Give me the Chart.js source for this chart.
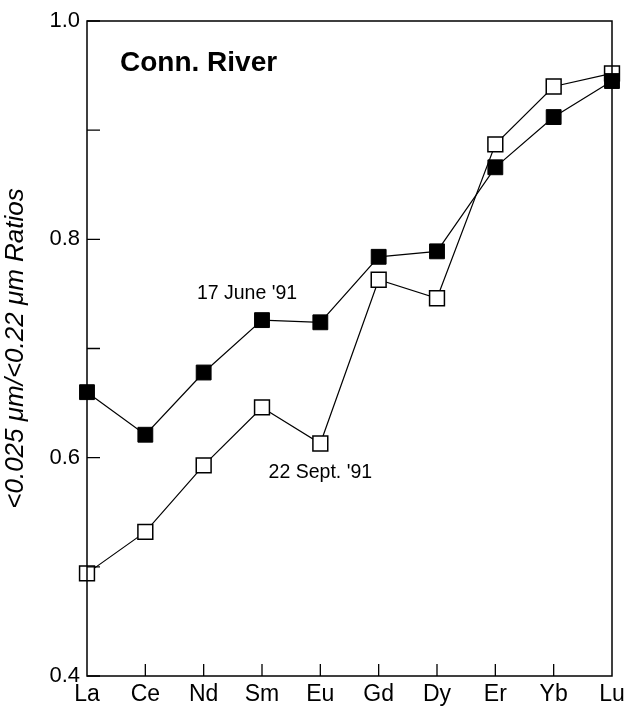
<!DOCTYPE html>
<html>
<head>
<meta charset="utf-8">
<script src="https://cdn.jsdelivr.net/npm/chart.js@4.4.1/dist/chart.umd.min.js"></script>
<style>
  html, body { margin: 0; padding: 0; background: #fff; }
  #wrap { width: 624px; height: 708px; }
</style>
</head>
<body>
<div id="wrap"><canvas id="reeChart" width="624" height="708"></canvas></div>
<script>
// REE ratios, Connecticut River
var elements = ['La', 'Ce', 'Nd', 'Sm', 'Eu', 'Gd', 'Dy', 'Er', 'Yb', 'Lu'];
var june91 = [0.660, 0.621, 0.678, 0.726, 0.724, 0.784, 0.789, 0.866, 0.912, 0.945];
var sept91 = [0.494, 0.532, 0.593, 0.646, 0.613, 0.763, 0.746, 0.887, 0.940, 0.952];
var yLabels = [0.4, 0.6, 0.8, 1.0];

var FONT = '"Liberation Sans", Arial, Helvetica, sans-serif';

// box round the plot, inward ticks and the text labels
var framePlugin = {
    id: 'frame',
    afterDraw: function (chart) {
        var c = chart.ctx, a = chart.chartArea;
        var xs = chart.scales.x, ys = chart.scales.y;
        c.save();
        c.strokeStyle = '#000';
        c.lineWidth = 1.5;
        c.strokeRect(a.left, a.top, a.right - a.left, a.bottom - a.top);
        c.lineWidth = 1.3;
        c.beginPath();
        ys.ticks.forEach(function (t) {
            var y = ys.getPixelForValue(t.value);
            c.moveTo(a.left, y); c.lineTo(a.left + 13, y);
        });
        for (var i = 1; i < elements.length - 1; i++) {
            var x = xs.getPixelForValue(i);
            c.moveTo(x, a.bottom); c.lineTo(x, a.bottom - 12);
        }
        c.stroke();

        c.fillStyle = '#000';
        c.textAlign = 'left';
        c.textBaseline = 'middle';
        c.font = 'bold 28px ' + FONT;
        c.fillText('Conn. River', a.left + 33, 63);

        c.textAlign = 'center';
        c.font = '19.5px ' + FONT;
        var sm = chart.getDatasetMeta(0).data[3];
        c.fillText("17 June '91", sm.x - 15, sm.y - 26);
        var eu = chart.getDatasetMeta(1).data[4];
        c.fillText("22 Sept. '91", eu.x, eu.y + 29);
        c.restore();
    }
};

var ctx = document.getElementById('reeChart').getContext('2d');
var reeChart = new Chart(ctx, {
    type: 'line',
    data: {
        labels: elements,
        datasets: [{
            label: "17 June '91",
            data: june91,
            order: 0,
            borderColor: '#000',
            borderWidth: 1.2,
            pointStyle: 'rect',
            pointRadius: 10.5,
            pointBackgroundColor: '#000',
            pointBorderColor: '#000',
            pointBorderWidth: 1,
            tension: 0
        }, {
            label: "22 Sept. '91",
            data: sept91,
            order: 1,
            borderColor: '#000',
            borderWidth: 1.2,
            pointStyle: 'rect',
            pointRadius: 10.5,
            pointBackgroundColor: '#fff',
            pointBorderColor: '#000',
            pointBorderWidth: 1.5,
            tension: 0
        }]
    },
    options: {
        responsive: false,
        animation: false,
        clip: false,
        layout: { padding: { top: 21, right: 12, left: 0, bottom: 0 } },
        plugins: {
            legend: { display: false },
            tooltip: { enabled: false }
        },
        scales: {
            x: {
                offset: false,
                grid: { display: false, drawTicks: false },
                border: { display: false },
                ticks: {
                    color: '#000',
                    padding: 5,
                    font: { family: FONT, size: 23 },
                    maxRotation: 0,
                    autoSkip: false
                },
                afterFit: function (s) {
                    s.height = 32;
                    s.paddingLeft = 0;
                    s.paddingRight = 0;
                }
            },
            y: {
                min: 0.4,
                max: 1.0,
                grid: { display: false, drawTicks: false },
                border: { display: false },
                ticks: {
                    stepSize: 0.1,
                    color: '#000',
                    padding: 7,
                    font: { family: FONT, size: 22 },
                    callback: function (v) {
                        var r = Math.round(v * 10) / 10;
                        return yLabels.indexOf(r) >= 0 ? r.toFixed(1) : '';
                    }
                },
                title: {
                    display: true,
                    text: '<0.025 \u03bcm/<0.22 \u03bcm Ratios',
                    color: '#000',
                    font: { family: FONT, size: 26, style: 'italic' },
                    padding: { top: 0, bottom: 0 }
                },
                afterFit: function (s) {
                    s.width = 87;
                    s.paddingTop = 0;
                    s.paddingBottom = 0;
                }
            }
        }
    },
    plugins: [framePlugin]
});
</script>
</body>
</html>
